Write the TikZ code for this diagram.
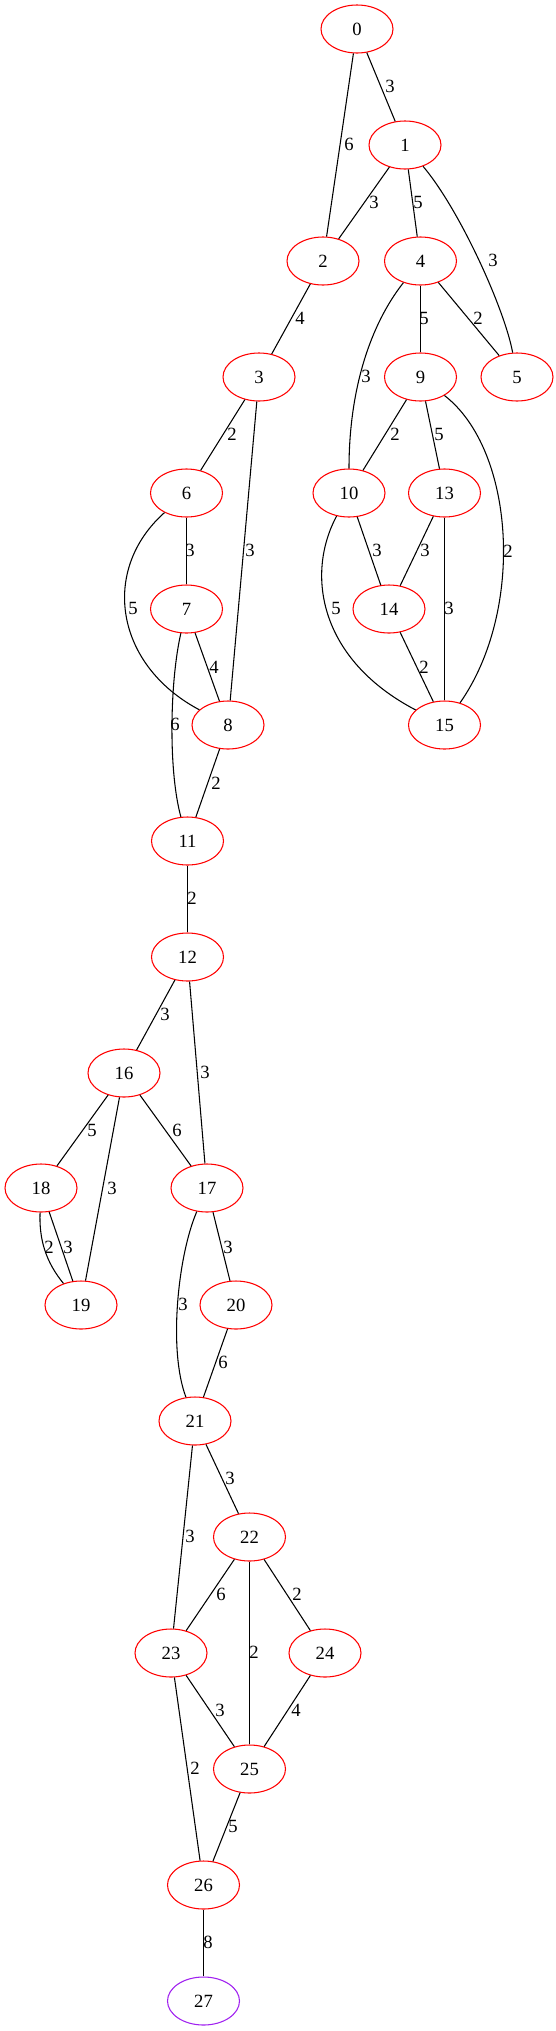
\documentclass[tikz,border=0pt]{standalone}
\usepackage{fontspec}
\setmainfont{Liberation Serif}
\usetikzlibrary{shapes.geometric}
\definecolor{gvpurple}{HTML}{A020F0}
\begin{document}
\begin{tikzpicture}[x=0.75pt,y=-0.75pt,
  vtx/.style={ellipse,draw=red,line width=0.8pt,minimum width=54pt,minimum height=36pt,inner sep=0pt,font=\fontsize{14}{16}\selectfont},
  lbl/.style={inner sep=0pt,font=\fontsize{14}{16}\selectfont},
  edg/.style={line width=0.8pt,draw=black}]
\useasboundingbox[fill=white] (0,0) rectangle (556,2031);
% vertices
\node[vtx] (n0) at (357,29) {0};
\node[vtx] (n1) at (405,145) {1};
\node[vtx] (n2) at (323,261) {2};
\node[vtx] (n4) at (420.5,261) {4};
\node[vtx] (n3) at (259,377) {3};
\node[vtx] (n9) at (420.5,377) {9};
\node[vtx] (n5) at (517,377) {5};
\node[vtx] (n6) at (186.5,493) {6};
\node[vtx] (n10) at (349,493) {10};
\node[vtx] (n13) at (444.5,493) {13};
\node[vtx] (n7) at (186.5,609) {7};
\node[vtx] (n14) at (389,609) {14};
\node[vtx] (n8) at (228,725) {8};
\node[vtx] (n15) at (444.5,725) {15};
\node[vtx] (n11) at (187.5,841) {11};
\node[vtx] (n12) at (187.5,957) {12};
\node[vtx] (n16) at (124,1073) {16};
\node[vtx] (n18) at (41,1188) {18};
\node[vtx] (n17) at (207,1188) {17};
\node[vtx] (n19) at (81,1305) {19};
\node[vtx] (n20) at (236,1305) {20};
\node[vtx] (n21) at (195,1421) {21};
\node[vtx] (n22) at (249.5,1537) {22};
\node[vtx] (n23) at (171,1653) {23};
\node[vtx] (n24) at (325,1653) {24};
\node[vtx] (n25) at (249.5,1769) {25};
\node[vtx] (n26) at (203.5,1885) {26};
\node[vtx,draw=gvpurple] (n27) at (203.5,2001) {27};
% edges
\draw[edg] (n0) -- (n1);
\draw[edg] (n0) -- (n2);
\draw[edg] (n1) -- (n2);
\draw[edg] (n1) -- (n4);
\draw[edg] (n1) .. controls (460,210) and (505,310) .. (n5);
\draw[edg] (n2) -- (n3);
\draw[edg] (n4) -- (n9);
\draw[edg] (n4) -- (n5);
\draw[edg] (n4) .. controls (370,325) and (349,390) .. (n10);
\draw[edg] (n3) -- (n6);
\draw[edg] (n3) -- (n8);
\draw[edg] (n9) -- (n10);
\draw[edg] (n9) -- (n13);
\draw[edg] (n9) .. controls (515,450) and (525,610) .. (n15);
\draw[edg] (n6) -- (n7);
\draw[edg] (n6) .. controls (100,570) and (115,665) .. (n8);
\draw[edg] (n10) -- (n14);
\draw[edg] (n13) -- (n14);
\draw[edg] (n13) -- (n15);
\draw[edg] (n10) .. controls (305,575) and (320,660) .. (n15);
\draw[edg] (n7) -- (n8);
\draw[edg] (n14) -- (n15);
\draw[edg] (n7) .. controls (170,680) and (168,770) .. (n11);
\draw[edg] (n8) -- (n11);
\draw[edg] (n11) -- (n12);
\draw[edg] (n12) -- (n16);
\draw[edg] (n12) -- (n17);
\draw[edg] (n16) -- (n18);
\draw[edg] (n16) -- (n17);
\draw[edg] (n16) -- (n19);
\draw[edg] (n18) .. controls (39,1240) and (46,1262) .. (n19);
\draw[edg] (n18) -- (n19);
\draw[edg] (n17) -- (n20);
\draw[edg] (n17) .. controls (178,1255) and (168,1350) .. (n21);
\draw[edg] (n20) -- (n21);
\draw[edg] (n21) -- (n22);
\draw[edg] (n21) -- (n23);
\draw[edg] (n22) -- (n23);
\draw[edg] (n22) -- (n24);
\draw[edg] (n22) -- (n25);
\draw[edg] (n23) -- (n25);
\draw[edg] (n24) -- (n25);
\draw[edg] (n23) -- (n26);
\draw[edg] (n25) -- (n26);
\draw[edg] (n26) -- (n27);
% edge labels
\node[lbl] (l0-1) at (390,86) {3};
\node[lbl] (l0-2) at (349,144) {6};
\node[lbl] (l1-2) at (374,202) {3};
\node[lbl] (l1-4) at (418,202) {5};
\node[lbl] (l1-5) at (493,260) {3};
\node[lbl] (l2-3) at (300,318) {4};
\node[lbl] (l4-9) at (424,318) {5};
\node[lbl] (l4-5) at (478,318) {2};
\node[lbl] (l4-10) at (366,376) {3};
\node[lbl] (l3-6) at (232,434) {2};
\node[lbl] (l3-8) at (250,550) {3};
\node[lbl] (l9-10) at (395,434) {2};
\node[lbl] (l9-13) at (439,434) {5};
\node[lbl] (l9-15) at (508,551) {2};
\node[lbl] (l6-7) at (190,550) {3};
\node[lbl] (l6-8) at (133,608) {5};
\node[lbl] (l10-14) at (377,550) {3};
\node[lbl] (l13-14) at (425,550) {3};
\node[lbl] (l13-15) at (449,608) {3};
\node[lbl] (l10-15) at (336,608) {5};
\node[lbl] (l7-8) at (214,667) {4};
\node[lbl] (l14-15) at (424,667) {2};
\node[lbl] (l7-11) at (175,724) {6};
\node[lbl] (l8-11) at (216,783) {2};
\node[lbl] (l11-12) at (192,898) {2};
\node[lbl] (l12-16) at (165,1014) {3};
\node[lbl] (l12-17) at (205,1072) {3};
\node[lbl] (l16-18) at (92,1130) {5};
\node[lbl] (l16-17) at (177,1130) {6};
\node[lbl] (l16-19) at (112,1188) {3};
\node[lbl] (l18-19a) at (49,1247) {2};
\node[lbl] (l18-19b) at (68,1247) {3};
\node[lbl] (l17-20) at (228,1247) {3};
\node[lbl] (l17-21) at (183,1304) {3};
\node[lbl] (l20-21) at (223,1362) {6};
\node[lbl] (l21-22) at (230,1478) {3};
\node[lbl] (l21-23) at (190,1536) {3};
\node[lbl] (l22-23) at (221,1594) {6};
\node[lbl] (l22-24) at (297,1594) {2};
\node[lbl] (l22-25) at (254,1652) {2};
\node[lbl] (l23-25) at (220,1710) {3};
\node[lbl] (l24-25) at (296,1710) {4};
\node[lbl] (l23-26) at (195,1768) {2};
\node[lbl] (l25-26) at (233,1826) {5};
\node[lbl] (l26-27) at (208,1942) {8};
\end{tikzpicture}
\end{document}
